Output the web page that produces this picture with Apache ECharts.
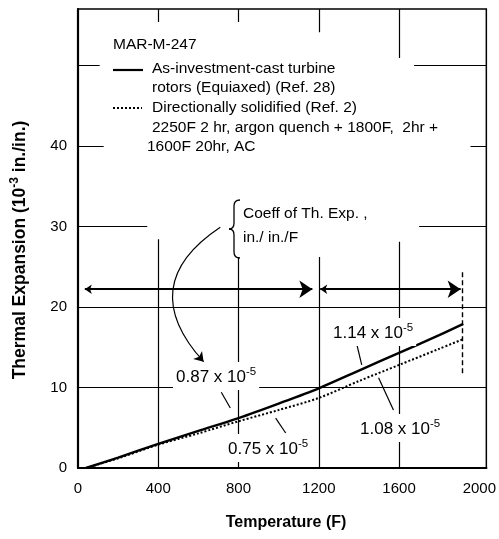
<!DOCTYPE html>
<html><head><meta charset="utf-8">
<script src="https://cdn.jsdelivr.net/npm/echarts@6/dist/echarts.min.js"></script>
<style>html,body{margin:0;padding:0;background:#fff}#c{width:499px;height:539px}</style>
</head><body><div id="c"></div>
<script>
// ---- data ----
const temperatures = [40, 200, 400, 600, 800, 1000, 1200, 1400, 1600, 1800, 1920];
const equiaxed     = [0, 1.3, 3.0, 4.6, 6.2, 8.0, 9.9, 12.1, 14.3, 16.5, 17.9];
const directional  = [0, 1.2, 2.9, 4.3, 5.8, 7.2, 8.7, 10.8, 12.8, 14.8, 16.0];
const xTickLabels = [0, 400, 800, 1200, 1600, 2000];
const yTickLabels = [0, 10, 20, 30, 40];
const seriesNames = ['As-investment-cast turbine rotors (Equiaxed) (Ref. 28)', 'Directionally solidified (Ref. 2)'];
const coeffLabels = ['0.87 x 10', '0.75 x 10', '1.14 x 10', '1.08 x 10'];

// ---- layout / annotation geometry (data coordinates) ----
const X_MAX = 2035, Y_MAX = 57;
const gridSegs = [
  [[0,10],[X_MAX,10]], [[0,20],[X_MAX,20]],
  [[0,30],[345,30]], [[1700,30],[X_MAX,30]],
  [[0,40],[128,40]], [[1956,40],[X_MAX,40]],
  [[0,50],[108,50]], [[1675,50],[X_MAX,50]],
  [[400,Y_MAX],[400,55.4]], [[400,0],[400,28.4]],
  [[800,Y_MAX],[800,55.4]], [[800,0],[800,26.2]],
  [[1200,Y_MAX],[1200,54.1]], [[1200,0],[1200,26.2]],
  [[1600,Y_MAX],[1600,50.9]], [[1600,0],[1600,28.1]]
];
const leaders = [
  [[1390,15.3],[1414,12.8]],
  [[1498,11.2],[1572,7.2]],
  [[714,9.4],[759,7.45]],
  [[985,6.2],[1035,4.35]]
];
const FONT = '"Liberation Sans", Arial, sans-serif';

const chart = echarts.init(document.getElementById('c'), null, {renderer:'canvas'});

function coefText(i, x, y) {
  return {type:'text', x:x, y:y, z:100, style:{
    text:'{a|' + coeffLabels[i] + '}{s|-5}',
    textVerticalAlign:'middle', backgroundColor:'#fff', padding:[4,3],
    rich:{a:{fontFamily:FONT, fontSize:17, fill:'#000', verticalAlign:'bottom', lineHeight:20},
          s:{fontFamily:FONT, fontSize:11.5, fill:'#000', verticalAlign:'top', lineHeight:20}}
  }};
}
function txt(t, x, y, size, extra) {
  return Object.assign({type:'text', x:x, y:y, z:100, style:{text:t, fontFamily:FONT, fontSize:size, fill:'#000', textVerticalAlign:'middle'}}, extra||{});
}
function bz(x1,y1,cx,cy,x2,y2){
  return {type:'bezierCurve', z:100, shape:{x1:x1,y1:y1,cpx1:cx,cpy1:cy,x2:x2,y2:y2}, style:{stroke:'#000', fill:null, lineWidth:1.3}};
}
function ln(x1,y1,x2,y2,w){
  return {type:'line', z:100, shape:{x1:x1,y1:y1,x2:x2,y2:y2}, style:{stroke:'#000', lineWidth:w||1.3}};
}

const option = {
  animation:false,
  backgroundColor:'#fff',
  grid:{left:78, right:8, top:9, bottom:71, show:true, borderColor:'#000', borderWidth:1.5, backgroundColor:'transparent'},
  xAxis:{type:'value', min:0, max:X_MAX, interval:400,
    axisLine:{show:true, lineStyle:{color:'#000', width:2.2}},
    axisTick:{show:false}, splitLine:{show:false},
    axisLabel:{margin:13, color:'#000', fontFamily:FONT, fontSize:15,
      formatter:v => xTickLabels.indexOf(v) >= 0 ? String(v) : ''}},
  yAxis:{type:'value', min:0, max:Y_MAX, interval:10,
    axisLine:{show:true, lineStyle:{color:'#000', width:2.2}},
    axisTick:{show:false}, splitLine:{show:false},
    axisLabel:{margin:11, color:'#000', fontFamily:FONT, fontSize:15,
      formatter:v => yTickLabels.indexOf(v) >= 0 ? String(v) : ''}},
  series:[
    {type:'lines', coordinateSystem:'cartesian2d', silent:true, z:1,
      lineStyle:{color:'#000', width:1.2, opacity:1}, data:gridSegs.map(s => ({coords:s}))},
    {type:'lines', coordinateSystem:'cartesian2d', silent:true, z:1,
      lineStyle:{color:'#000', width:1.4, opacity:1, type:[5,3]}, data:[{coords:[[1915,24.3],[1915,11.5]]}]},
    {type:'lines', coordinateSystem:'cartesian2d', silent:true, z:3,
      symbol:['arrow','arrow'], symbolSize:[7,13],
      lineStyle:{color:'#000', width:1.8, opacity:1},
      data:[{coords:[[34,22.2],[1168,22.2]]},{coords:[[1207,22.2],[1907,22.2]]}]},
    {type:'lines', coordinateSystem:'cartesian2d', silent:true, z:3,
      symbol:['none','arrow'], symbolSize:[6,9],
      lineStyle:{color:'#000', width:1.2, opacity:1, curveness:-0.58},
      data:[{coords:[[709,29.9],[626,13.2]]}]},
    {type:'lines', coordinateSystem:'cartesian2d', silent:true, z:3,
      lineStyle:{color:'#000', width:1.2, opacity:1}, data:leaders.map(s => ({coords:s}))},
    {name:seriesNames[0], type:'line', data:temperatures.map((t,i)=>[t,equiaxed[i]]), smooth:0.3,
      symbol:'none', z:5, lineStyle:{color:'#000', width:2.4}},
    {name:seriesNames[1], type:'line', data:temperatures.map((t,i)=>[t,directional[i]]), smooth:0.3,
      symbol:'none', z:5, lineStyle:{color:'#000', width:2, type:'dotted'}}
  ],
  graphic:[
    txt('MAR-M-247', 113, 45, 15.5),
    ln(113,70,143,70,2.2),
    txt('As-investment-cast turbine', 152, 69, 15.5),
    txt('rotors (Equiaxed) (Ref. 28)', 152, 88, 15.5),
    {type:'line', z:100, shape:{x1:113,y1:108,x2:142,y2:108}, style:{stroke:'#000', lineWidth:2, lineDash:[2,2]}},
    txt('Directionally solidified (Ref. 2)', 152, 108, 15.5),
    txt('2250F 2 hr, argon quench + 1800F,  2hr +', 152, 128, 15.5),
    txt('1600F 20hr, AC', 147, 147, 15.5),
    bz(240,200,234,200,234,206), ln(234,206,234,223), bz(234,223,234,229,229,229),
    bz(229,229,234,229,234,235), ln(234,235,234,252), bz(234,252,234,258,240,258),
    txt('Coeff of Th. Exp. ,', 243, 214, 15.5),
    txt('in./ in./F', 243, 238, 15.5),
    coefText(0, 173, 376),
    coefText(1, 225, 448),
    coefText(2, 330, 332),
    coefText(3, 357, 428),
    {type:'text', x:286, y:523, z:100, style:{text:'Temperature (F)', fontFamily:FONT, fontWeight:'bold', fontSize:16, fill:'#000', textAlign:'center', textVerticalAlign:'middle'}},
    {type:'text', x:19, y:250, rotation:Math.PI/2, z:100, style:{
      text:'{a|Thermal Expansion (10}{s|-3}{a| in./in.)}', textAlign:'center', textVerticalAlign:'middle',
      rich:{a:{fontFamily:FONT, fontWeight:'bold', fontSize:17.5, fill:'#000', verticalAlign:'bottom', lineHeight:20},
            s:{fontFamily:FONT, fontWeight:'bold', fontSize:12, fill:'#000', verticalAlign:'top', lineHeight:20}}}}
  ]
};
chart.setOption(option);
</script></body></html>
